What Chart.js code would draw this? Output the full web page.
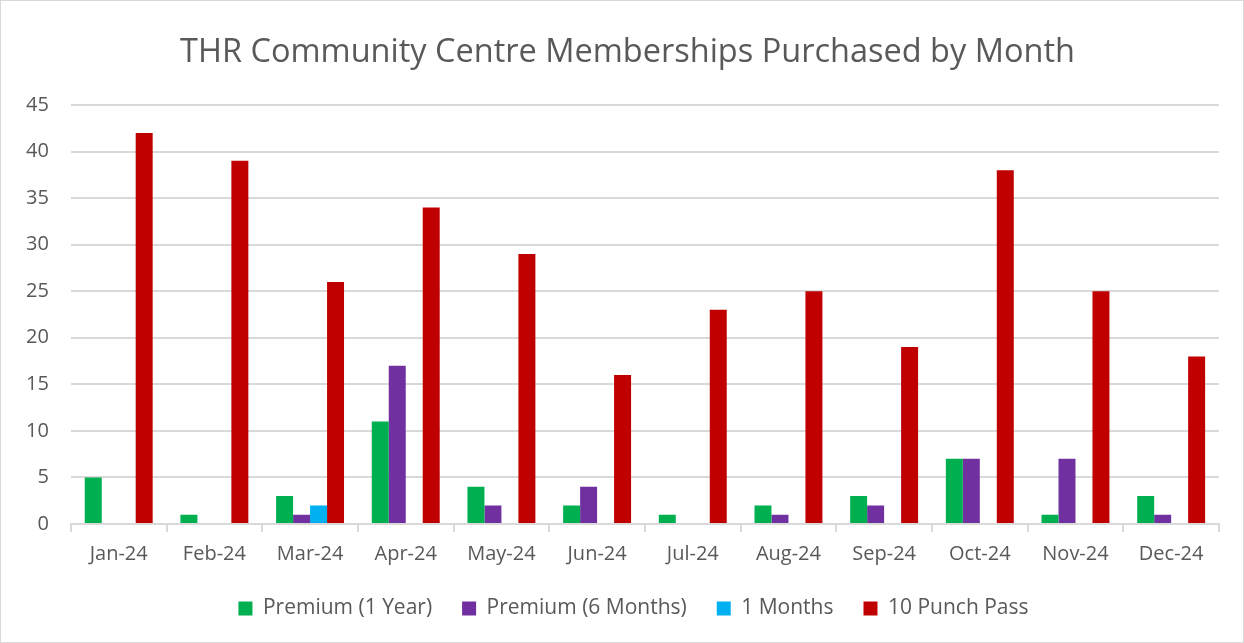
<!DOCTYPE html>
<html>
<head>
<meta charset="utf-8">
<script src="https://cdn.jsdelivr.net/npm/chart.js@4/dist/chart.umd.min.js"></script>
<style>
  html, body { margin: 0; padding: 0; background: #fff; }
  #wrap { width: 1244px; height: 643px; }
</style>
</head>
<body>
<div id="wrap"><canvas id="memberChart" width="1244" height="643"></canvas></div>
<script>
const months = ['Jan-24','Feb-24','Mar-24','Apr-24','May-24','Jun-24','Jul-24','Aug-24','Sep-24','Oct-24','Nov-24','Dec-24'];
const premiumYear = [5,1,3,11,4,2,1,2,3,7,1,3];
const premiumSixMonths = [0,0,1,17,2,4,0,1,2,7,7,1];
const oneMonth = [0,0,2,0,0,0,0,0,0,0,0,0];
const punchPass = [42,39,26,34,29,16,23,25,19,38,25,18];

const txt = '#595959';
const font = "'Open Sans', 'Liberation Sans', sans-serif";

// white background + thin grey frame like the Excel chart area
const frame = {
  id: 'frame',
  beforeDraw(chart) {
    const c = chart.ctx;
    c.save();
    c.fillStyle = '#fff';
    c.fillRect(0, 0, chart.width, chart.height);
    c.strokeStyle = '#d9d9d9';
    c.lineWidth = 1;
    c.strokeRect(0.5, 0.5, chart.width - 1, chart.height - 1);
    c.restore();
  }
};

// excel centres title/legend on the whole chart, not on the box chart.js gives them
function shift(box, dx, dy) {
  if (!box) return;
  const orig = box.draw.bind(box);
  box.draw = function () {
    this.ctx.save();
    this.ctx.translate(dx, dy);
    orig();
    this.ctx.restore();
  };
}
const nudge = {
  id: 'nudge',
  afterInit(chart) {
    shift(chart.titleBlock, 16, 0);
    shift(chart.legend, 22, -8);
  }
};

new Chart(memberChart, {
  type: 'bar',
  data: {
    labels: months,
    datasets: [
      { label: 'Premium (1 Year)', data: premiumYear, backgroundColor: '#00b050' },
      { label: 'Premium (6 Months)', data: premiumSixMonths, backgroundColor: '#7030a0' },
      { label: '1 Months', data: oneMonth, backgroundColor: '#00b0f0' },
      { label: '10 Punch Pass', data: punchPass, backgroundColor: '#c00000' }
    ]
  },
  options: {
    responsive: false,
    animation: false,
    layout: { padding: { left: 4, right: 25, top: 33, bottom: 6 } },
    datasets: { bar: { categoryPercentage: 0.71, barPercentage: 1, borderWidth: 0 } },
    plugins: {
      title: {
        display: true,
        text: 'THR Community Centre Memberships Purchased by Month',
        color: txt,
        font: { family: font, size: 32.5, weight: 'normal' },
        padding: { top: 0, bottom: 33 }
      },
      legend: {
        position: 'bottom',
        labels: {
          color: txt,
          font: { family: font, size: 21 },
          boxWidth: 14,
          boxHeight: 14,
          padding: 30
        }
      },
      tooltip: { enabled: false }
    },
    scales: {
      x: {
        grid: { drawOnChartArea: false, drawTicks: true, tickLength: 8, color: '#d9d9d9', lineWidth: 2 },
        border: { color: '#d9d9d9', width: 2 },
        ticks: { color: txt, font: { family: font, size: 20 }, padding: 10 }
      },
      y: {
        min: 0,
        max: 45,
        ticks: { stepSize: 5, color: txt, font: { family: font, size: 20 }, padding: 22 },
        grid: { color: '#d9d9d9', lineWidth: 2, drawTicks: false },
        border: { display: false }
      }
    }
  },
  plugins: [frame, nudge]
});
</script>
</body>
</html>
